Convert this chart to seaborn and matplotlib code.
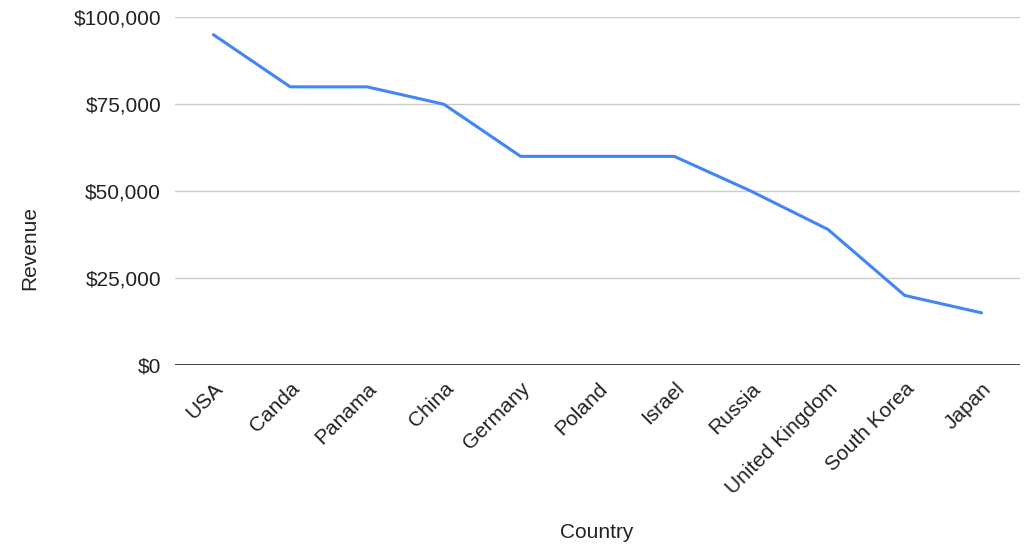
import matplotlib
matplotlib.use("Agg")
import matplotlib.pyplot as plt
import matplotlib.ticker as mticker
import seaborn as sns
import pandas as pd

countries = ["USA", "Canda", "Panama", "China", "Germany", "Poland", "Israel",
             "Russia", "United Kingdom", "South Korea", "Japan"]
revenue = [95000, 80000, 80000, 75000, 60000, 60000, 60000,
           50000, 39000, 20000, 15000]
y_ticks = [0, 25000, 50000, 75000, 100000]

df = pd.DataFrame({"Country": countries, "Revenue": revenue})

sns.set_theme(style="white")
plt.rcParams["font.family"] = ["Liberation Sans", "DejaVu Sans"]

fig = plt.figure(figsize=(10.33, 5.47), dpi=100)
ax = fig.add_axes([0.1694, 0.3327, 0.818, 0.6357])

sns.lineplot(data=df, x="Country", y="Revenue", sort=False, ax=ax,
             color="#4285F4", linewidth=2.2, zorder=3)

ax.set_xlim(-0.5, len(countries) - 0.5)
ax.set_ylim(0, 100000)
ax.set_yticks(y_ticks)
ax.yaxis.set_major_formatter(mticker.FuncFormatter(lambda v, p: f"${v:,.0f}"))

for v in y_ticks[1:]:
    ax.axhline(v, color="#cccccc", linewidth=1.0, zorder=1)
ax.axhline(0, color="#333333", linewidth=1.3, zorder=2)

for s in ax.spines.values():
    s.set_visible(False)

ax.tick_params(axis="both", length=0, labelsize=15, colors="#222222")
ax.tick_params(axis="y", pad=10)
ax.tick_params(axis="x", pad=10)
plt.setp(ax.get_xticklabels(), rotation=45, ha="right", rotation_mode="anchor")

ax.set_xlabel("Country", fontsize=15, color="#222222")
ax.set_ylabel("Revenue", fontsize=15, color="#222222")
ax.xaxis.set_label_coords(0.4994, -0.483)
ax.yaxis.set_label_coords(-0.1716, 0.3365)
ax.xaxis.label.set_va("center")
ax.yaxis.label.set_va("center")

fig.savefig("out.png", dpi=100)
